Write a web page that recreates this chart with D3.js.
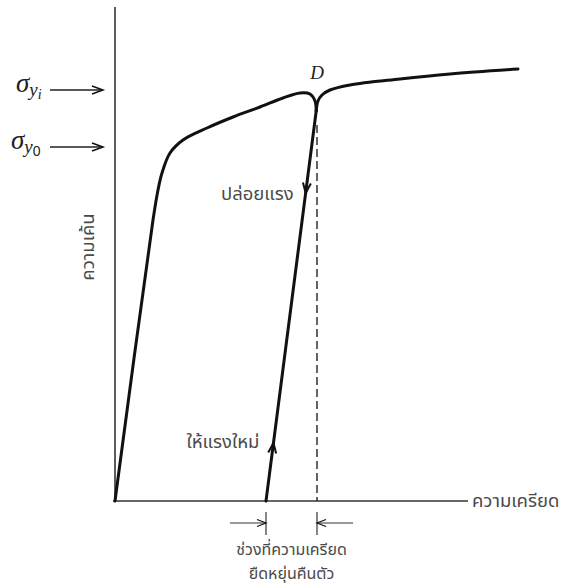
<!DOCTYPE html>
<html>
<head>
<meta charset="utf-8">
<script src="https://cdn.jsdelivr.net/npm/d3@7/dist/d3.min.js"></script>
<style>
  html, body { margin: 0; padding: 0; background: #fff; }
  svg { display: block; }
  .thai { font-family: "Noto Sans Thai", "Noto Sans", "DejaVu Sans", sans-serif; fill: #4a4a4a; font-size: 18.5px; }
</style>
</head>
<body>
<svg id="chart" width="565" height="588"></svg>
<script>
// Stress–strain curve with unloading and reloading at point D (arbitrary units)
const loadingCurve = [
  [0, 0], [9.5, 70.25], [10.75, 77.75], [11.75, 82], [13.75, 87], [17, 90.25],
  [23, 93.25], [29.5, 96], [36.25, 98.5], [42, 100.75], [46.25, 102],
  [48.75, 101.75], [50, 100], [50.3, 97.5]
];
const unloadLine = [[50.3, 97.5], [37.75, 0]];
const reloadCurve = [
  [50.3, 97.5], [50.75, 100], [51.75, 101.5], [53.75, 102.75], [58.75, 104],
  [71.25, 105.5], [83.75, 106.75], [100.75, 108]
];
const pointD = [50.5, 105.5];
const recoveryStrain = [37.75, 50.5];          // elastic recovery interval
const yieldLevels = [102.75, 88.5];             // σ_yi, σ_y0
const yieldSubs = ["i", "0"];
const axisLabels = { x: "ความเครียด", y: "ความเค้น" };
const unloadText = "ปล่อยแรง";
const reloadText = "ให้แรงใหม่";
const recoveryText = ["ช่วงที่ความเครียด", "ยืดหยุ่นคืนตัว"];

const svg = d3.select("#chart");
const x = d3.scaleLinear().domain([0, 100]).range([115, 515]);
const y = d3.scaleLinear().domain([0, 100]).range([501, 101]);

const line = d3.line().x(d => x(d[0])).y(d => y(d[1]));
const smooth = d3.line().x(d => x(d[0])).y(d => y(d[1])).curve(d3.curveCatmullRom.alpha(0.5));

// axes
svg.append("line").attr("x1", x(0)).attr("x2", x(0)).attr("y1", y(123.5)).attr("y2", y(0))
  .attr("stroke", "#333").attr("stroke-width", 1.6);
svg.append("line").attr("x1", x(-0.5)).attr("x2", x(88.25)).attr("y1", y(0)).attr("y2", y(0))
  .attr("stroke", "#333").attr("stroke-width", 1.6);

// dashed guide below D
svg.append("line").attr("x1", x(recoveryStrain[1])).attr("x2", x(recoveryStrain[1]))
  .attr("y1", y(94)).attr("y2", y(0))
  .attr("stroke", "#222").attr("stroke-width", 1.4).attr("stroke-dasharray", "8,4");

// curves
const curveStyle = g => g.attr("fill", "none").attr("stroke", "#111")
  .attr("stroke-width", 3).attr("stroke-linejoin", "round").attr("stroke-linecap", "round");
svg.append("path").attr("d", smooth(loadingCurve)).call(curveStyle);
svg.append("path").attr("d", line(unloadLine)).call(curveStyle);
svg.append("path").attr("d", smooth(reloadCurve)).call(curveStyle);

// open arrowhead (two strokes) with tip at (px,py), pointing at angle a (radians)
function arrowHead(px, py, a, len, half, width) {
  const bx = px - len * Math.cos(a), by = py - len * Math.sin(a);
  const nx = -Math.sin(a) * half, ny = Math.cos(a) * half;
  svg.append("path")
    .attr("d", `M${bx + nx},${by + ny}L${px},${py}L${bx - nx},${by - ny}`)
    .attr("fill", "none").attr("stroke", "#111").attr("stroke-width", width)
    .attr("stroke-linejoin", "miter");
}

// direction arrows on the unload / reload line
const [u0, u1] = unloadLine;
const ang = Math.atan2(y(u1[1]) - y(u0[1]), x(u1[0]) - x(u0[0]));
const onLine = s => [x(u0[0] + (u1[0] - u0[0]) * (1 - s / u0[1])), y(s)];
const pDown = onLine(77);
arrowHead(pDown[0], pDown[1], ang, 10, 4, 2);
const pUp = onLine(14.5);
arrowHead(pUp[0], pUp[1], ang + Math.PI, 10, 4, 2);

// yield stress markers
yieldLevels.forEach((v, i) => {
  const yy = y(v);
  svg.append("line").attr("x1", 50).attr("x2", 103).attr("y1", yy).attr("y2", yy)
    .attr("stroke", "#222").attr("stroke-width", 1.5);
  arrowHead(103, yy, 0, 11, 4, 1.5);
  const t = svg.append("text").attr("x", i === 0 ? 16 : 11).attr("y", yy + 2)
    .attr("font-family", "Liberation Serif, serif").attr("font-style", "italic")
    .attr("fill", "#222");
  t.append("tspan").attr("font-size", 27).text("σ");
  t.append("tspan").attr("font-size", 19).attr("dy", 4).text("y");
  t.append("tspan").attr("font-size", 14).attr("dy", 3)
    .attr("font-style", i === 0 ? "italic" : "normal")
    .attr("font-family", i === 0 ? "Liberation Serif, serif" : "Liberation Sans, sans-serif")
    .text(yieldSubs[i]);
});

// point D
svg.append("text").attr("x", x(pointD[0])).attr("y", y(pointD[1]))
  .attr("text-anchor", "middle")
  .attr("font-family", "Liberation Serif, serif").attr("font-style", "italic")
  .attr("font-size", 19).attr("fill", "#222").text("D");

// Thai labels
svg.append("text").attr("class", "thai").attr("x", x(88.25) + 4).attr("y", y(0) + 6)
  .text(axisLabels.x);
svg.append("text").attr("class", "thai")
  .attr("transform", `translate(${x(0) - 21},${y(63.5)}) rotate(-90)`)
  .attr("text-anchor", "middle").text(axisLabels.y);
svg.append("text").attr("class", "thai").attr("x", pDown[0] - 12).attr("y", pDown[1] + 7)
  .attr("text-anchor", "end").text(unloadText);
svg.append("text").attr("class", "thai").attr("x", pUp[0] - 14).attr("y", pUp[1] + 5)
  .attr("text-anchor", "end").text(reloadText);

// elastic recovery interval
const xa = x(recoveryStrain[0]), xb = x(recoveryStrain[1]);
[xa, xb].forEach(xx => {
  svg.append("line").attr("x1", xx).attr("x2", xx).attr("y1", 512).attr("y2", 535)
    .attr("stroke", "#333").attr("stroke-width", 1.2);
});
svg.append("line").attr("x1", xa - 36).attr("x2", xa).attr("y1", 523).attr("y2", 523)
  .attr("stroke", "#333").attr("stroke-width", 1.2);
arrowHead(xa, 523, 0, 9, 3.5, 1.2);
svg.append("line").attr("x1", xb + 36).attr("x2", xb).attr("y1", 523).attr("y2", 523)
  .attr("stroke", "#333").attr("stroke-width", 1.2);
arrowHead(xb, 523, Math.PI, 9, 3.5, 1.2);
// two-line caption of the interval
const cap = svg.append("text").attr("class", "thai").attr("text-anchor", "middle")
  .attr("y", 555).style("font-size", "16px");
recoveryText.forEach((s, i) => {
  cap.append("tspan").attr("x", (xa + xb) / 2).attr("dy", i === 0 ? 0 : 24).text(s);
});
</script>
</body>
</html>
